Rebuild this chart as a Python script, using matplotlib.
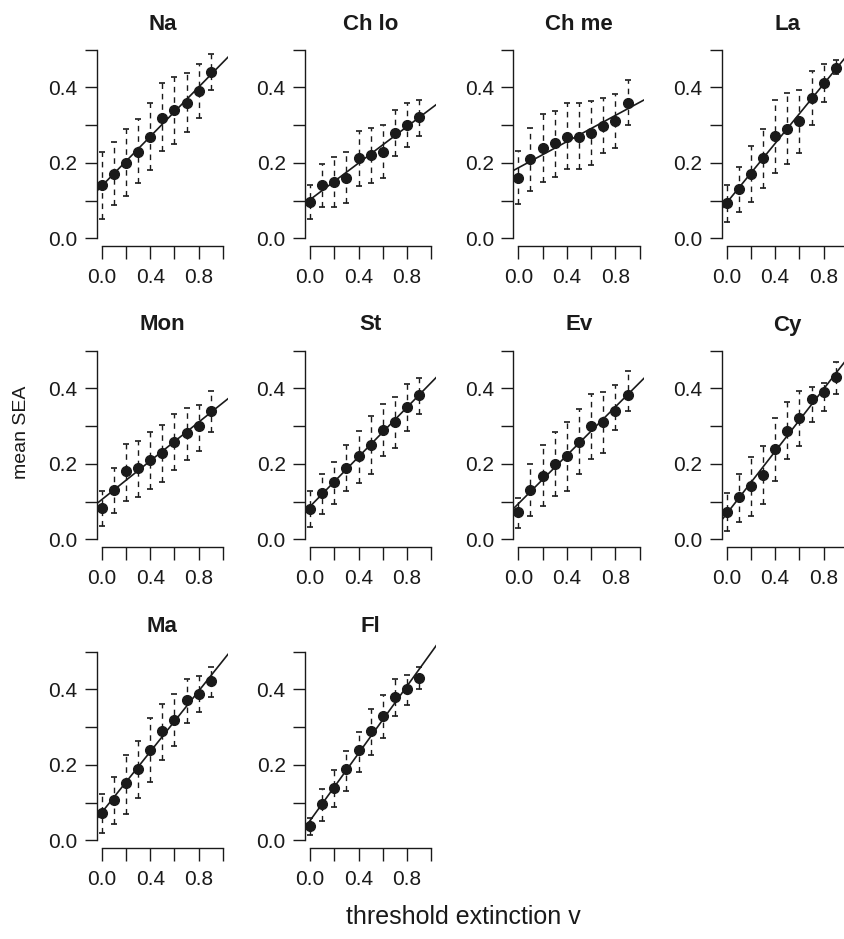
import numpy as np
import matplotlib
matplotlib.use("Agg")
import matplotlib.pyplot as plt

plt.rcParams["font.family"] = ["Liberation Sans", "DejaVu Sans"]

# threshold extinction levels (x)
thresholds = [0.0, 0.1, 0.2, 0.3, 0.4, 0.5, 0.6, 0.7, 0.8, 0.9]

panel_names = ["Na", "Ch lo", "Ch me", "La", "Mon", "St", "Ev", "Cy", "Ma", "Fl"]

# mean SEA per threshold
mean_na = [0.141, 0.170, 0.200, 0.230, 0.269, 0.320, 0.340, 0.359, 0.391, 0.440]
mean_chlo = [0.097, 0.141, 0.150, 0.161, 0.212, 0.221, 0.230, 0.280, 0.300, 0.321]
mean_chme = [0.161, 0.210, 0.240, 0.252, 0.269, 0.269, 0.278, 0.298, 0.312, 0.359]
mean_la = [0.093, 0.131, 0.170, 0.212, 0.271, 0.290, 0.311, 0.371, 0.411, 0.450]
mean_mon = [0.084, 0.131, 0.180, 0.188, 0.211, 0.230, 0.259, 0.281, 0.301, 0.341]
mean_st = [0.081, 0.122, 0.151, 0.190, 0.222, 0.250, 0.290, 0.311, 0.350, 0.381]
mean_ev = [0.072, 0.131, 0.169, 0.200, 0.221, 0.259, 0.301, 0.310, 0.341, 0.381]
mean_cy = [0.073, 0.111, 0.140, 0.171, 0.240, 0.288, 0.321, 0.372, 0.390, 0.430]
mean_ma = [0.073, 0.108, 0.151, 0.188, 0.238, 0.289, 0.320, 0.371, 0.388, 0.422]
mean_fl = [0.037, 0.096, 0.138, 0.188, 0.238, 0.289, 0.329, 0.380, 0.400, 0.431]

# upper interval bounds
upper_na = [0.228, 0.256, 0.290, 0.315, 0.358, 0.411, 0.428, 0.439, 0.461, 0.488]
upper_chlo = [0.141, 0.196, 0.216, 0.228, 0.285, 0.293, 0.300, 0.340, 0.358, 0.366]
upper_chme = [0.231, 0.293, 0.328, 0.337, 0.359, 0.359, 0.364, 0.373, 0.382, 0.419]
upper_la = [0.141, 0.190, 0.245, 0.289, 0.366, 0.384, 0.393, 0.442, 0.461, 0.472]
upper_mon = [0.128, 0.190, 0.252, 0.261, 0.284, 0.304, 0.333, 0.348, 0.357, 0.392]
upper_st = [0.127, 0.173, 0.206, 0.250, 0.288, 0.326, 0.358, 0.376, 0.412, 0.426]
upper_ev = [0.109, 0.199, 0.249, 0.283, 0.311, 0.346, 0.385, 0.390, 0.410, 0.447]
upper_cy = [0.124, 0.173, 0.217, 0.246, 0.321, 0.364, 0.392, 0.403, 0.414, 0.469]
upper_ma = [0.122, 0.169, 0.225, 0.264, 0.323, 0.362, 0.387, 0.427, 0.436, 0.458]
upper_fl = [0.058, 0.135, 0.187, 0.237, 0.286, 0.347, 0.385, 0.427, 0.438, 0.458]

# lower interval bounds
lower_na = [0.051, 0.087, 0.113, 0.146, 0.181, 0.232, 0.250, 0.281, 0.318, 0.393]
lower_chlo = [0.051, 0.084, 0.084, 0.093, 0.139, 0.147, 0.159, 0.219, 0.243, 0.272]
lower_chme = [0.091, 0.126, 0.150, 0.163, 0.183, 0.183, 0.195, 0.225, 0.238, 0.300]
lower_la = [0.044, 0.069, 0.095, 0.134, 0.174, 0.196, 0.227, 0.300, 0.362, 0.436]
lower_mon = [0.035, 0.069, 0.102, 0.111, 0.133, 0.153, 0.184, 0.211, 0.235, 0.284]
lower_st = [0.034, 0.066, 0.093, 0.128, 0.150, 0.173, 0.221, 0.243, 0.288, 0.333]
lower_ev = [0.031, 0.063, 0.087, 0.116, 0.128, 0.173, 0.212, 0.230, 0.290, 0.339]
lower_cy = [0.022, 0.047, 0.063, 0.093, 0.155, 0.213, 0.246, 0.311, 0.341, 0.386]
lower_ma = [0.020, 0.044, 0.071, 0.111, 0.154, 0.213, 0.249, 0.311, 0.340, 0.380]
lower_fl = [0.015, 0.052, 0.089, 0.132, 0.180, 0.225, 0.272, 0.329, 0.358, 0.402]

means = [mean_na, mean_chlo, mean_chme, mean_la, mean_mon,
         mean_st, mean_ev, mean_cy, mean_ma, mean_fl]
uppers = [upper_na, upper_chlo, upper_chme, upper_la, upper_mon,
          upper_st, upper_ev, upper_cy, upper_ma, upper_fl]
lowers = [lower_na, lower_chlo, lower_chme, lower_la, lower_mon,
          lower_st, lower_ev, lower_cy, lower_ma, lower_fl]

y_ticks = [0.0, 0.1, 0.2, 0.3, 0.4, 0.5]
y_ticklabels = ["0.0", "", "0.2", "", "0.4", ""]
x_ticks = [0.0, 0.2, 0.4, 0.6, 0.8, 1.0]
x_ticklabels = ["0.0", "", "0.4", "", "0.8", ""]

INK = "#1a1a1a"
W, H, DPI = 844, 939, 100
fig = plt.figure(figsize=(W / DPI, H / DPI), dpi=DPI)

# panel grid in pixels
left0, col_step, pw = 96.8, 208.3, 131.1
top0, row_step, ph = 42.0, 301.0, 203.9

for k, name in enumerate(panel_names):
    r, c = divmod(k, 4)
    lpx = left0 + c * col_step
    tpx = top0 + r * row_step
    ax = fig.add_axes([lpx / W, 1 - (tpx + ph) / H, pw / W, ph / H])
    ax.set_xlim(-0.04, 1.04)
    ax.set_ylim(-0.02, 0.52)

    m = np.asarray(means[k])
    hi = np.asarray(uppers[k])
    lo = np.asarray(lowers[k])
    x = np.asarray(thresholds)

    # fitted linear trend
    slope, icpt = np.polyfit(x, m, 1)
    xx = np.array([-0.04, 1.04])
    ax.plot(xx, icpt + slope * xx, color=INK, lw=1.2, zorder=2)

    # dashed intervals with short caps
    ax.vlines(x, lo, hi, colors=INK, linestyles=(0, (4, 3.5)), lw=1.0, zorder=1)
    ax.plot(x, hi, ls="none", marker="_", ms=5, mew=1.2, color=INK, zorder=1)
    ax.plot(x, lo, ls="none", marker="_", ms=5, mew=1.2, color=INK, zorder=1)

    ax.plot(x, m, ls="none", marker="o", ms=7, color=INK, zorder=3)

    for s in ("top", "right"):
        ax.spines[s].set_visible(False)
    ax.spines["left"].set_bounds(0, 0.5)
    ax.spines["bottom"].set_bounds(0, 1.0)
    for s in ("left", "bottom"):
        ax.spines[s].set_linewidth(1.0)
        ax.spines[s].set_color(INK)

    ax.set_yticks(y_ticks)
    ax.set_yticklabels(y_ticklabels)
    ax.set_xticks(x_ticks)
    ax.set_xticklabels(x_ticklabels)
    ax.tick_params(axis="both", direction="out", length=9, width=1.0,
                   colors=INK, labelsize=15)
    ax.tick_params(axis="y", pad=5)
    ax.tick_params(axis="x", pad=7)
    ax.patch.set_visible(False)

    ax.set_title(name, fontsize=16, fontweight="bold", color=INK, pad=9)

fig.text(463 / W, 1 - 917 / H, "threshold extinction v", ha="center",
         va="center", fontsize=18, color=INK)
fig.text(22 / W, 1 - 432 / H, "mean SEA", ha="center", va="center",
         rotation=90, fontsize=14, color=INK)

fig.savefig("out.png", dpi=DPI)
